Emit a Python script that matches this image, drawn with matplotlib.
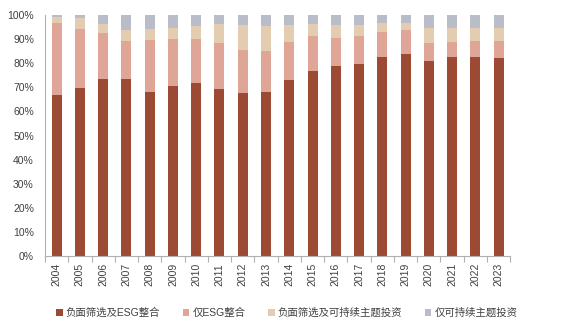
import matplotlib
matplotlib.use("Agg")
import matplotlib.pyplot as plt
import numpy as np
from matplotlib.ticker import PercentFormatter

plt.rcParams["font.family"] = ["Liberation Sans", "Noto Sans CJK SC", "DejaVu Sans"]

years = [str(y) for y in range(2004, 2024)]

# stacked shares in %, bottom to top
neg_esg = [66.8, 69.6, 73.4, 73.3, 68.0, 70.4, 71.8, 69.2, 67.6, 67.9,
           73.0, 76.8, 79.0, 79.8, 82.7, 83.8, 81.0, 82.7, 82.7, 82.3]
esg_only = [30.0, 24.5, 19.0, 16.0, 21.6, 19.5, 18.1, 19.3, 18.0, 17.2,
            15.8, 14.5, 11.7, 11.5, 10.4, 10.0, 7.4, 6.2, 6.5, 7.0]
neg_theme = [2.5, 4.8, 3.9, 4.5, 4.6, 4.6, 5.4, 7.8, 10.5, 10.5,
             7.1, 5.0, 5.3, 4.8, 3.6, 3.0, 6.3, 5.6, 5.5, 5.4]
theme_only = [100 - a - b - c for a, b, c in zip(neg_esg, esg_only, neg_theme)]

series = [
    ("负面筛选及ESG整合", neg_esg, "#9C4A33"),
    ("仅ESG整合", esg_only, "#DFA596"),
    ("负面筛选及可持续主题投资", neg_theme, "#E3CCAF"),
    ("仅可持续主题投资", theme_only, "#B9BCC9"),
]

fig = plt.figure(figsize=(5.66, 3.22), dpi=100)
ax = fig.add_axes([0.0795, 0.205, 0.822, 0.748])

x = np.arange(len(years))
bottom = np.zeros(len(years))
for label, vals, color in series:
    ax.bar(x, vals, 0.43, bottom=bottom, color=color, label=label)
    bottom += np.array(vals)

txt = "#404040"
ax.set_xlim(-0.5, len(years) - 0.5)
ax.set_ylim(0, 100)
ax.set_yticks(np.arange(0, 101, 10))
ax.yaxis.set_major_formatter(PercentFormatter(decimals=0))
ax.set_xticks(x)
ax.set_xticklabels(years, rotation=90, fontsize=7.5, color=txt)
ax.set_xticks(np.arange(-0.5, len(years), 1), minor=True)
ax.tick_params(axis="x", which="major", length=0, pad=5)
ax.tick_params(axis="x", which="minor", length=4, color="#B0B0B0", width=0.8)
ax.tick_params(axis="y", length=0, labelsize=7.5, labelcolor=txt, pad=8)

for side in ["top", "right"]:
    ax.spines[side].set_visible(False)
for side in ["left", "bottom"]:
    ax.spines[side].set_color("#B0B0B0")
    ax.spines[side].set_linewidth(0.8)

fig.legend(loc="center", bbox_to_anchor=(0.507, 0.028), ncol=4, frameon=False,
           fontsize=7.5, handlelength=0.6, handleheight=0.6, handletextpad=0.3,
           columnspacing=2.2, labelcolor=txt)

fig.savefig("out.png", dpi=100)
